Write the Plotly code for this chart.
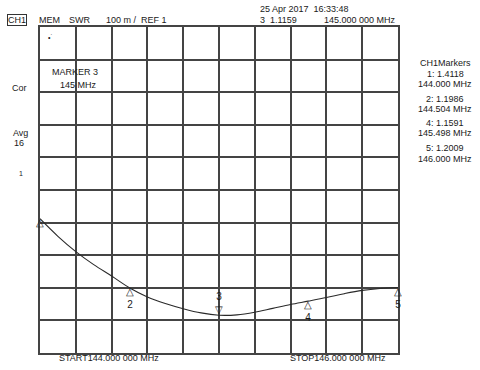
import plotly.graph_objects as go

# Trace data
freq_mhz = [144.0, 144.1, 144.2, 144.3, 144.4, 144.504, 144.6, 144.7, 144.8, 144.9,
            145.0, 145.1, 145.2, 145.3, 145.4, 145.498, 145.6, 145.7, 145.8, 145.9, 146.0]
swr = [1.4118, 1.358, 1.311, 1.271, 1.236, 1.1986, 1.172, 1.152, 1.136, 1.123,
       1.1159, 1.117, 1.125, 1.137, 1.149, 1.1591, 1.170, 1.182, 1.192, 1.198, 1.2009]

# Markers
marker_ids = ["1", "2", "3", "4", "5"]
marker_freq = [144.000, 144.504, 145.000, 145.498, 146.000]
marker_swr = [1.4118, 1.1986, 1.1159, 1.1591, 1.2009]
active_marker = "3"

L, R, T, B = 40, 398, 27, 353
W, H = 480, 370

def px(x):
    return (x - L) / (R - L)

def py(y):
    return (B - y) / (B - T)

fig = go.Figure()
fig.add_trace(go.Scatter(x=freq_mhz, y=swr, mode="lines", line_shape="spline",
                         line=dict(color="#2a2a2a", width=1.1), hoverinfo="skip"))

FONT = "Liberation Sans, Arial, sans-serif"
TC = "#1a1a1a"
ann = []

# marker symbols on trace
for mid, f, s in zip(marker_ids, marker_freq, marker_swr):
    if mid == active_marker:
        ann.append(dict(x=f, y=s, xref="x", yref="y", text=mid + "<br>▽", showarrow=False,
                        yanchor="bottom", xanchor="center", font=dict(size=10, color=TC, family=FONT),
                        yshift=-2))
    else:
        txt = "△" if mid == "1" else "△<br>" + mid
        ann.append(dict(x=f, y=s, xref="x", yref="y", text=txt, showarrow=False,
                        yanchor="top", xanchor="center", font=dict(size=10, color=TC, family=FONT),
                        yshift=4))

def txt(x, y, t, size=9, anchor="left"):
    ann.append(dict(x=px(x), y=py(y), xref="paper", yref="paper", text=t, showarrow=False,
                    xanchor=anchor, yanchor="middle", font=dict(size=size, color=TC, family=FONT)))

# header
ann.append(dict(x=px(7), y=py(20), xref="paper", yref="paper", text="CH1", showarrow=False,
                xanchor="left", yanchor="middle", font=dict(size=9, color=TC, family=FONT),
                bordercolor="#333333", borderwidth=1, borderpad=0))
txt(37, 20, "MEM")
txt(67, 20, "SWR")
txt(104, 20, "100 m /  REF 1")
txt(258, 9, "25 Apr 2017  16:33:48")
txt(258, 20, "3  1.1159")
txt(322, 20, "145.000 000 MHz")
txt(46, 37, "\u2022\u02d9", size=7)

# left annotations
txt(50, 72, "MARKER 3")
txt(58, 85, "145 MHz")
txt(10, 88, "Cor")
txt(11, 133, "Avg")
txt(12, 143, "16")
txt(17, 173, "1", size=7)

# right marker table
rx = 445
txt(rx, 63, "CH1Markers", anchor="center")
lines = []
for mid, f, s in zip(marker_ids, marker_freq, marker_swr):
    if mid == active_marker:
        continue
    lines.append((mid, f, s))
ys = [(74, 84), (99, 109), (123, 133), (148, 159)]
for (mid, f, s), (y1, y2) in zip(lines, ys):
    txt(rx, y1, f"{mid}: {s:.4f}", anchor="center")
    txt(rx, y2, f"{f:.3f} MHz", anchor="center")

# bottom
txt(57, 358, "START144.000 000 MHz")
txt(288, 358, "STOP146.000 000 MHz")

fig.update_layout(
    width=W, height=H,
    margin=dict(l=L, r=W - R, t=T, b=H - B),
    paper_bgcolor="white", plot_bgcolor="white",
    showlegend=False,
    annotations=ann,
    xaxis=dict(range=[144.0, 146.0], dtick=0.2, tick0=144.0, showgrid=True,
               gridcolor="#444444", gridwidth=1.5, showticklabels=False, ticks="",
               zeroline=False, showline=True, linecolor="#444444", linewidth=1.6, mirror=True),
    yaxis=dict(range=[1.0, 2.0], dtick=0.1, tick0=1.0, showgrid=True,
               gridcolor="#444444", gridwidth=1.5, showticklabels=False, ticks="",
               zeroline=False, showline=True, linecolor="#444444", linewidth=1.6, mirror=True),
)

fig.write_html("out.html")
